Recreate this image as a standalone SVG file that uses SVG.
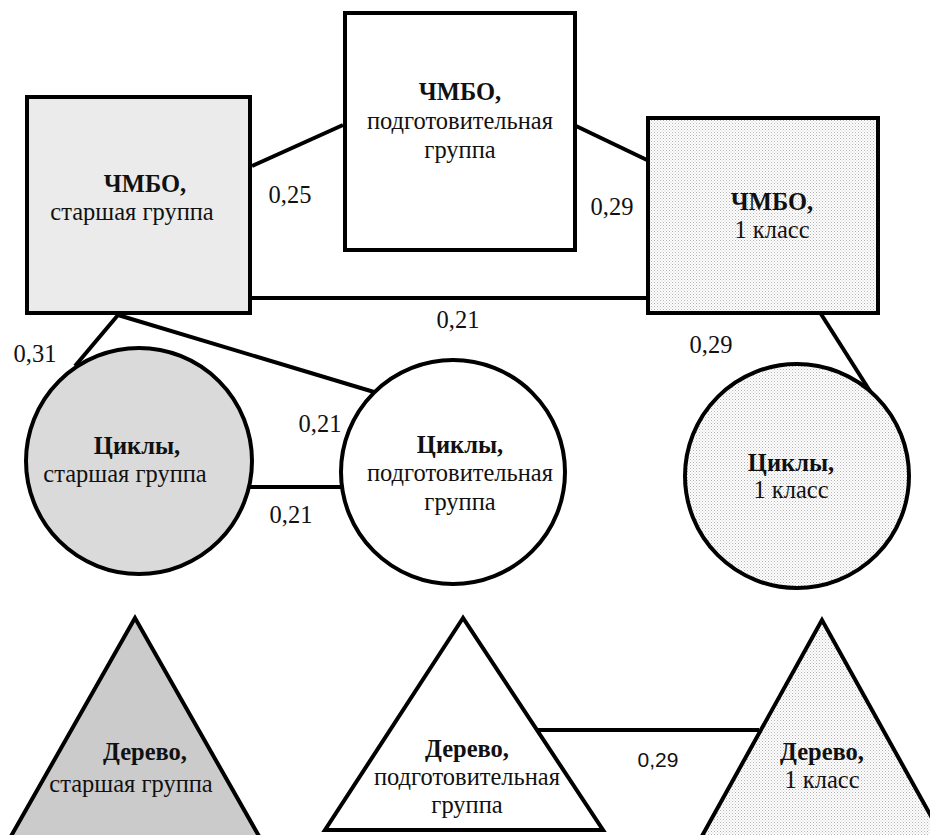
<svg xmlns="http://www.w3.org/2000/svg" width="930" height="835" viewBox="0 0 930 835">
<defs>
<pattern id="dots" width="3" height="3" patternUnits="userSpaceOnUse">
<rect width="3" height="3" fill="#ffffff"/>
<rect x="0" y="0" width="1" height="1" fill="#b4b4b4"/>
<rect x="1.5" y="1.5" width="1" height="1" fill="#c4c4c4"/>
</pattern>
<style>
.shape{stroke:#000;stroke-width:4;stroke-linejoin:miter}
.edge{stroke:#000;stroke-width:4;fill:none}
.b{font-weight:bold}
</style>
</defs>
<rect width="930" height="835" fill="#ffffff"/>
<g id="connectors">
<line class="edge" x1="252" y1="166" x2="343" y2="125"/>
<line class="edge" x1="576" y1="126" x2="647" y2="160"/>
<line class="edge" x1="250" y1="298" x2="648" y2="298"/>
<line class="edge" x1="118" y1="315" x2="75" y2="366"/>
<line class="edge" x1="118" y1="315" x2="374" y2="392"/>
<line class="edge" x1="250" y1="487" x2="341" y2="487"/>
<line class="edge" x1="821" y1="314" x2="875" y2="399"/>
<line class="edge" x1="537" y1="730" x2="759" y2="730"/>
<g font-family="'Liberation Serif', 'Times New Roman', Tinos, 'DejaVu Serif', serif" font-size="24.5" fill="#111" text-anchor="middle">
<text x="290" y="203">0,25</text>
<text x="612" y="215">0,29</text>
<text x="458" y="328">0,21</text>
<text x="35" y="362">0,31</text>
<text x="320" y="432">0,21</text>
<text x="291" y="523">0,21</text>
<text x="711" y="353">0,29</text>
</g>
<text x="658" y="767" font-family="'Liberation Sans', Arial, sans-serif" font-size="21" fill="#111" text-anchor="middle">0,29</text>
</g>
<g font-family="'Liberation Serif', 'Times New Roman', Tinos, 'DejaVu Serif', serif" font-size="24.5" fill="#111" text-anchor="middle">
<g id="chmbo-senior">
<rect class="shape" x="27" y="97" width="223" height="216" fill="#ebebeb"/>
<text class="b" x="145" y="192">ЧМБО,</text>
<text x="132" y="220">старшая группа</text>
</g>
<g id="chmbo-prep">
<rect class="shape" x="345" y="13" width="230" height="237" fill="#ffffff"/>
<text class="b" x="460" y="100">ЧМБО,</text>
<text x="460" y="129">подготовительная</text>
<text x="460" y="158">группа</text>
</g>
<g id="chmbo-grade1">
<rect class="shape" x="648" y="118" width="230" height="195" fill="url(#dots)"/>
<text class="b" x="772" y="210">ЧМБО,</text>
<text x="772" y="238">1 класс</text>
</g>
<g id="cycles-senior">
<circle class="shape" cx="139" cy="461" r="113" fill="#dadada"/>
<text class="b" x="137" y="454">Циклы,</text>
<text x="125" y="482">старшая группа</text>
</g>
<g id="cycles-prep">
<circle class="shape" cx="453" cy="472" r="112" fill="#ffffff"/>
<text class="b" x="460" y="453">Циклы,</text>
<text x="460" y="481">подготовительная</text>
<text x="460" y="510">группа</text>
</g>
<g id="cycles-grade1">
<circle class="shape" cx="797" cy="476" r="112" fill="url(#dots)"/>
<text class="b" x="791" y="471">Циклы,</text>
<text x="791" y="498">1 класс</text>
</g>
<g id="tree-senior">
<polygon class="shape" points="135,618 6,845 264,845" fill="#cbcbcb"/>
<text class="b" x="145" y="760">Дерево,</text>
<text x="131" y="792">старшая группа</text>
</g>
<g id="tree-prep">
<polygon class="shape" points="463,618 325,830 603,830" fill="#ffffff"/>
<text class="b" x="467" y="757">Дерево,</text>
<text x="467" y="785">подготовительная</text>
<text x="467" y="813">группа</text>
</g>
<g id="tree-grade1">
<polygon class="shape" points="822,620 697,845 947,845" fill="url(#dots)"/>
<text class="b" x="822" y="760">Дерево,</text>
<text x="822" y="788">1 класс</text>
</g>
</g>
</svg>
